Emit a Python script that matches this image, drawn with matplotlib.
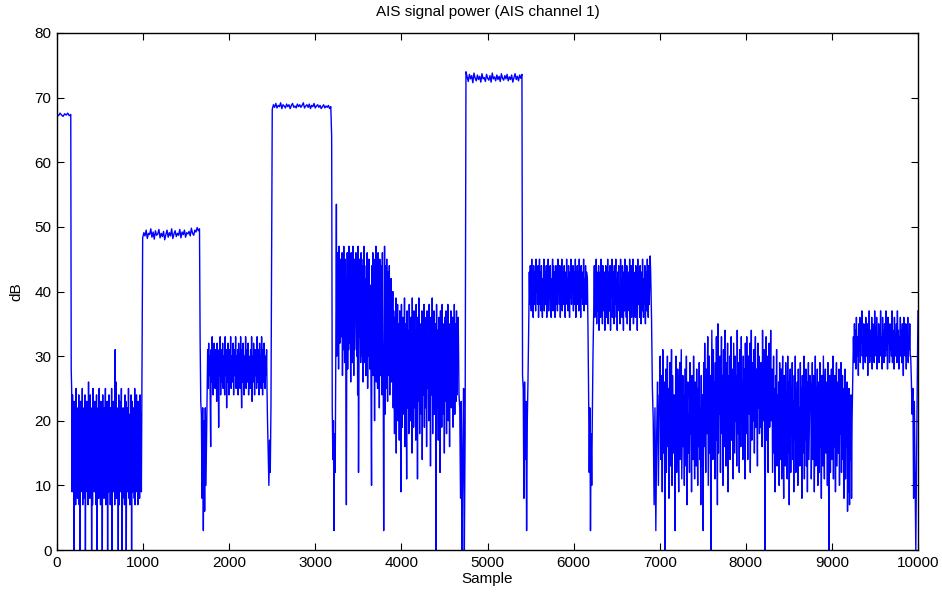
import numpy as np
import matplotlib
matplotlib.use("Agg")
import matplotlib.pyplot as plt

plt.rcParams['font.family'] = ['Liberation Sans', 'DejaVu Sans']

# ---- data: (start sample, end sample) and values per segment ----
seg_a_range = (0, 160)
seg_a = [67.4, 67.2, 67.6, 67.3, 67.1, 67.5, 67.3, 67.6, 67.2, 67.4]

seg_b_range = (165, 985)
seg_b = [28, 25, 9, 24, 13, 21, 0, 23, 10, 19, 7, 25, 12, 22, 8, 20, 11, 24, 7, 18,
         0, 23, 9, 21, 14, 25, 7, 19, 11, 22, 8, 24, 0, 20, 13, 23, 9, 18, 7, 26,
         12, 21, 8, 24, 10, 20, 0, 22, 7, 25, 11, 19, 9, 23, 13, 21, 7, 24, 0, 20,
         10, 22, 8, 25, 12, 19, 7, 23, 9, 21, 0, 24, 11, 20, 8, 22, 13, 25, 7, 19,
         10, 23, 0, 21, 9, 24, 12, 20, 7, 22, 8, 25, 0, 19, 11, 23, 9, 21, 7, 31,
         13, 26, 8, 22, 10, 20, 0, 24, 7, 23, 12, 19, 9, 25, 0, 21, 8, 22, 11, 20,
         7, 24, 10, 23, 0, 19, 9, 22, 12, 25, 8, 21, 7, 20, 11, 24, 0, 23, 9, 19,
         13, 22, 8, 25, 7, 21, 10, 24, 9, 20, 7, 23, 12, 22, 8, 24, 10, 21, 9, 22]

seg_c_range = (995, 1655)
seg_c = [48.3, 49.1, 48.6, 49.5, 48.2, 49.0, 48.8, 49.7, 48.4, 49.2, 48.1, 49.4, 48.7,
         48.9, 49.6, 48.3, 49.0, 48.5, 49.3, 48.0, 48.8, 49.5, 48.4, 49.1, 48.6, 49.7,
         48.2, 48.9, 49.4, 48.5, 49.0, 48.7, 49.6, 48.3, 49.2, 48.8, 49.5, 48.4, 49.1,
         48.9, 49.3, 48.6, 49.8, 49.0, 48.7, 49.5, 49.2, 49.9, 49.4, 49.7]

seg_d_range = (1662, 1745)
seg_d = [33, 23, 21, 8, 22, 3, 20, 6, 22, 10, 18, 26]

seg_e_range = (1750, 2440)
seg_e = [31, 25, 32, 27, 30, 24, 16, 31, 26, 33, 28, 24, 29, 32, 27, 25, 31, 30, 23, 32,
         26, 30, 19, 31, 27, 33, 24, 29, 31, 26, 32, 25, 30, 28, 24, 33, 27, 31, 22, 30,
         26, 32, 29, 24, 31, 27, 33, 25, 30, 28, 26, 32, 24, 31, 27, 29, 33, 25, 30, 26,
         31, 24, 32, 28, 30, 25, 33, 27, 22, 31, 26, 32, 29, 24, 30, 27, 33, 25, 31, 28,
         26, 32, 24, 30, 29, 25, 31, 27, 33, 23, 30, 26, 32, 28, 24, 31, 27, 30, 25, 33,
         26, 29, 31, 24, 32, 27, 30, 25, 33, 28, 24, 31, 26, 32, 29, 25, 30, 27, 31, 24]

seg_f_range = (2445, 2485)
seg_f = [20, 15, 10, 17, 12, 22]

seg_g_range = (2500, 3180)
seg_g = [68.2, 68.9, 68.5, 69.1, 68.4, 68.8, 68.6, 69.2, 68.3, 68.9, 68.7, 68.4, 69.0,
         68.6, 68.9, 68.3, 68.8, 69.1, 68.5, 68.7, 68.4, 69.0, 68.6, 68.9, 68.5, 68.8,
         69.2, 68.4, 68.7, 68.9, 68.5, 69.0, 68.3, 68.8, 68.6, 69.1, 68.4, 68.7, 68.9,
         68.5, 68.8, 68.3, 68.6, 68.9, 68.4, 68.7, 68.5, 68.8, 68.3, 68.6]

seg_h_range = (3190, 3238)
seg_h = [64, 22, 14, 20, 3, 18, 12, 30]

seg_i_range = (3245, 3895)
seg_i = [53.5, 30, 46, 35, 44, 28, 47, 38, 32, 45, 44, 42, 33, 46, 27, 44, 31, 47, 36, 29,
         45, 40, 25, 7, 34, 46, 28, 45, 31, 47, 32, 44, 37, 26, 46, 33, 42, 29, 47, 39,
         27, 45, 31, 44, 36, 46, 35, 30, 43, 24, 47, 12, 28, 45, 33, 41, 29, 46, 30, 44,
         36, 26, 45, 32, 47, 29, 42, 37, 27, 44, 33, 46, 25, 43, 30, 45, 34, 28, 41, 36,
         24, 10, 44, 31, 46, 27, 43, 35, 20, 45, 30, 47, 26, 44, 33, 25, 46, 29, 43, 22,
         45, 35, 27, 44, 30, 24, 46, 32, 26, 3, 28, 47, 21, 44, 31, 25, 45, 29, 23, 43,
         33, 27, 44, 24, 39, 30, 42, 26, 38, 31]

seg_j_range = (3900, 4650)
seg_j = [40, 22, 37, 28, 18, 36, 24, 39, 15, 33, 26, 38, 20, 35, 29, 17, 37, 23, 34, 9,
         38, 25, 19, 36, 27, 33, 21, 39, 16, 35, 30, 24, 11, 37, 22, 34, 28, 18, 38, 26,
         33, 20, 36, 29, 15, 39, 24, 35, 19, 37, 27, 22, 34, 17, 38, 25, 31, 11, 36, 23,
         39, 28, 18, 35, 26, 33, 21, 37, 14, 34, 30, 24, 38, 19, 36, 27, 22, 35, 16, 37,
         25, 33, 29, 20, 38, 23, 35, 13, 36, 28, 24, 39, 18, 34, 26, 37, 21, 33, 27, 35,
         0, 38, 22, 34, 29, 17, 36, 25, 33, 12, 37, 24, 30, 19, 38, 26, 35, 21, 34, 15,
         36, 28, 23, 37, 18, 34, 26, 38, 20, 33, 29, 16, 35, 24, 37, 22, 32, 27, 36, 19,
         34, 25, 38, 21, 35, 28, 23, 37, 24, 33]

seg_k_range = (4660, 4740)
seg_k = [36, 24, 22, 8, 23, 0, 14, 25, 0, 18]

seg_l_range = (4750, 5400)
seg_l = [74.0, 73.2, 72.5, 73.6, 72.9, 73.4, 72.3, 73.8, 73.0, 72.6, 73.5, 72.8, 73.3,
         72.4, 73.7, 72.9, 73.1, 72.5, 73.6, 73.0, 72.7, 73.4, 72.4, 73.8, 72.9, 73.2,
         72.6, 73.5, 72.8, 73.3, 72.5, 73.7, 73.0, 72.7, 73.4, 72.9, 73.6, 72.6, 73.2,
         72.8, 73.5, 72.4, 73.1, 73.7, 72.8, 73.3, 72.6, 73.5, 73.0, 73.6]

seg_m_range = (5407, 5470)
seg_m = [27, 25, 8, 26, 14, 23, 3, 20, 26]

seg_n_range = (5480, 6150)
seg_n = [36, 43, 38, 44, 40, 37, 45, 39, 42, 36, 44, 41, 38, 43, 37, 45, 40, 42, 38, 44,
         36, 41, 45, 38, 43, 37, 44, 40, 36, 42, 39, 45, 37, 43, 41, 38, 44, 36, 42, 40,
         45, 37, 43, 39, 44, 38, 36, 42, 41, 45, 37, 44, 39, 43, 36, 41, 44, 38, 42, 37,
         45, 40, 43, 38, 44, 36, 42, 39, 45, 37, 41, 43, 38, 44, 40, 36, 43, 39, 45, 38,
         42, 37, 44, 41, 36, 43, 39, 45, 38, 42, 40, 44, 37, 43, 38, 41, 45, 36, 42, 39,
         44, 38, 43, 37, 45, 40, 42, 36, 44, 39, 43, 38, 41, 45, 37, 42, 39, 44, 38, 43]

seg_o_range = (6160, 6225)
seg_o = [42, 34, 24, 12, 22, 3, 18, 10, 21, 30]

seg_p_range = (6235, 6895)
seg_p = [38, 44, 36, 42, 39, 45, 35, 43, 37, 41, 44, 34, 40, 43, 36, 45, 38, 42, 35, 44,
         39, 37, 43, 34, 41, 44, 36, 42, 38, 45, 35, 40, 43, 37, 44, 34, 42, 39, 45, 36,
         41, 43, 35, 44, 38, 40, 45, 36, 42, 34, 43, 39, 44, 37, 41, 35, 45, 38, 42, 36,
         44, 40, 34, 43, 37, 45, 39, 41, 36, 44, 35, 42, 38, 43, 37, 45, 34, 40, 44, 36,
         42, 38, 45, 35, 43, 39, 41, 36, 44, 37, 42, 34, 45, 38, 40, 43, 36, 44, 39, 35,
         43, 37, 45, 40, 36, 42, 38, 44, 35, 41, 43, 37, 45, 39, 36, 44, 38, 42, 45.5, 43]

seg_q_range = (6905, 6995)
seg_q = [36, 25, 20, 7, 22, 3, 18, 26, 10, 24]

seg_r1_range = (7000, 7495)
seg_r1 = [24, 30, 14, 27, 21, 9, 31, 18, 15, 26, 0, 22, 28, 12, 19, 30, 16, 25, 8, 23,
          29, 13, 20, 31, 10, 27, 17, 15, 24, 22, 3, 26, 30, 12, 21, 28, 17, 9, 25, 29,
          14, 22, 31, 11, 19, 27, 16, 24, 10, 28, 20, 13, 30, 7, 23, 26, 15, 21, 12, 29,
          18, 25, 9, 27, 22, 14, 30, 17, 11, 26, 23, 13, 28, 19, 10, 25, 16, 29, 14, 22,
          7, 27, 13, 24]

seg_r2_range = (7505, 7995)
seg_r2 = [3, 29, 16, 32, 22, 12, 28, 18, 25, 33, 10, 21, 30, 15, 27, 0, 19, 34, 24, 14,
          31, 20, 26, 11, 29, 17, 33, 23, 7, 35, 15, 28, 21, 30, 12, 25, 33, 18, 27, 10,
          31, 20, 16, 34, 24, 13, 29, 22, 32, 9, 27, 19, 30, 14, 25, 33, 17, 28, 21, 11,
          32, 24, 15, 30, 20, 27, 13, 34, 22, 18, 29, 12, 31, 25, 16, 33, 20, 26, 14, 30,
          19, 28, 11, 32]

seg_r3_range = (8005, 8295)
seg_r3 = [18, 33, 24, 14, 30, 21, 27, 32, 12, 26, 34, 17, 29, 22, 20, 31, 15, 27, 33, 19,
          28, 24, 13, 32, 22, 30, 18, 26, 19, 29, 21, 16, 34, 25, 20, 31, 14, 0, 23, 33,
          17, 30, 22, 12, 27, 32, 19, 25, 34, 20]

seg_r4_range = (8305, 8745)
seg_r4 = [28, 12, 22, 30, 15, 25, 9, 27, 19, 31, 13, 24, 17, 26, 10, 29, 20, 14, 28, 11,
          25, 30, 16, 8, 27, 21, 13, 29, 18, 24, 11, 30, 15, 26, 7, 22, 28, 12, 25, 19,
          29, 14, 23, 9, 27, 17, 30, 12, 24, 20, 26, 10, 28, 16, 22, 13, 29, 18, 25, 8,
          27, 15, 21, 30, 11, 24, 17, 28, 13, 26, 9, 23, 29, 14, 20, 27]

seg_r5_range = (8755, 9240)
seg_r5 = [25, 11, 19, 29, 14, 23, 27, 9, 21, 30, 13, 25, 17, 28, 10, 22, 26, 12, 29, 16,
          24, 8, 27, 19, 13, 30, 21, 11, 25, 28, 15, 20, 26, 10, 29, 17, 0, 24, 27, 12,
          22, 28, 14, 19, 30, 11, 25, 16, 27, 9, 23, 29, 13, 20, 26, 15, 28, 10, 24, 18,
          29, 12, 21, 27, 14, 25, 8, 22, 28, 11, 24, 16, 26, 6, 21, 9, 25, 7, 23, 14,
          24, 8, 20, 25]

seg_s_range = (9250, 9910)
seg_s = [33, 29, 35, 31, 34, 28, 36, 32, 30, 33, 27, 35, 31, 36, 29, 34, 32, 37, 30, 33,
         28, 35, 31, 34, 29, 36, 32, 30, 35, 27, 33, 31, 37, 29, 34, 32, 30, 36, 28, 35,
         31, 33, 29, 37, 32, 34, 30, 36, 28, 33, 31, 35, 29, 34, 32, 37, 30, 33, 28, 36,
         31, 34, 29, 35, 32, 30, 37, 31, 33, 28, 36, 32, 34, 29, 35, 31, 33, 30, 37, 29,
         34, 32, 28, 36, 31, 33, 30, 35, 29, 37, 32, 34, 28, 33, 31, 36, 30, 34, 29, 35,
         32, 27, 36, 31, 33, 30, 35, 28, 34, 32, 36, 29, 33, 31, 35, 30]

seg_t_range = (9915, 10000)
seg_t = [30, 26, 21, 25, 8, 23, 12, 0, 14, 26, 37]

segments = [
    (seg_a_range, seg_a), (seg_b_range, seg_b), (seg_c_range, seg_c), (seg_d_range, seg_d),
    (seg_e_range, seg_e), (seg_f_range, seg_f), (seg_g_range, seg_g), (seg_h_range, seg_h),
    (seg_i_range, seg_i), (seg_j_range, seg_j), (seg_k_range, seg_k), (seg_l_range, seg_l),
    (seg_m_range, seg_m), (seg_n_range, seg_n), (seg_o_range, seg_o), (seg_p_range, seg_p),
    (seg_q_range, seg_q), (seg_r1_range, seg_r1), (seg_r2_range, seg_r2), (seg_r3_range, seg_r3),
    (seg_r4_range, seg_r4), (seg_r5_range, seg_r5), (seg_s_range, seg_s), (seg_t_range, seg_t),
]

xs, ys = [], []
for (s0, s1), vals in segments:
    xs.append(np.linspace(s0, s1, len(vals)))
    ys.append(np.asarray(vals, dtype=float))
x = np.concatenate(xs)
y = np.concatenate(ys)

title = "AIS signal power (AIS channel 1)"
xlabel = "Sample"
ylabel = "dB"
xticks = [0, 1000, 2000, 3000, 4000, 5000, 6000, 7000, 8000, 9000, 10000]
yticks = [0, 10, 20, 30, 40, 50, 60, 70, 80]

fig = plt.figure(figsize=(9.42, 5.92), dpi=100)
ax = fig.add_axes([57 / 942, 1 - 550 / 592, (918 - 57) / 942, (550 - 33) / 592])
ax.plot(x, y, color=(0, 0, 1), linewidth=1.0)
ax.set_xlim(0, 10000)
ax.set_ylim(0, 80)
ax.set_xticks(xticks)
ax.set_yticks(yticks)
ax.tick_params(direction='in', top=True, right=True, length=5, width=0.8,
               labelsize=11, pad=4)
for sp in ax.spines.values():
    sp.set_linewidth(1.0)
ax.set_title(title, fontsize=11, pad=12)
ax.set_xlabel(xlabel, fontsize=11, labelpad=2)
ax.set_ylabel(ylabel, fontsize=11, labelpad=8)
fig.savefig("out.png", dpi=100)
